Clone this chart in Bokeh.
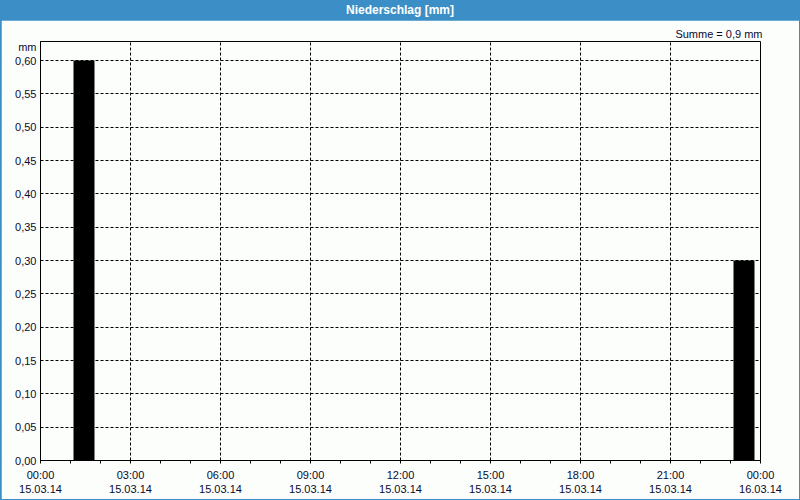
from bokeh.plotting import figure
from bokeh.models import (FixedTicker, CustomJSTickFormatter, Div, ColumnDataSource, Title)
from bokeh.layouts import column
from bokeh.embed import file_html
from bokeh.resources import INLINE

# ---- data ----
title_text = "Niederschlag [mm]"
unit_text = "mm"
# bar positions in hours after 15.03.14 00:00 (bar centres), precipitation in mm
bar_hours = [1.45, 23.45]
precip_mm = [0.60, 0.30]
bar_width_hours = 0.7
# x ticks (hours after start) and their labels
x_tick_hours = [0, 3, 6, 9, 12, 15, 18, 21, 24]
x_tick_times = ["00:00", "03:00", "06:00", "09:00", "12:00", "15:00", "18:00", "21:00", "00:00"]
x_tick_dates = ["15.03.14"] * 8 + ["16.03.14"]
x_minor_hours = [h for h in range(0, 25) if h % 3 != 0]
y_ticks = [0.00, 0.05, 0.10, 0.15, 0.20, 0.25, 0.30, 0.35, 0.40, 0.45, 0.50, 0.55, 0.60]
y_max = 0.6285
x_min, x_max = 0, 24
unit_label_pos = 0.621  # where the unit caption sits on the y axis

FONT = "Liberation Sans"
TXT = "#0a0a30"
BG = "#fcfefc"
BLUE = "#3c8fc6"

src = ColumnDataSource(dict(x=bar_hours, top=precip_mm))

p = figure(width=798, height=479, frame_width=720, frame_height=419,
           min_border_left=39, min_border_right=39, min_border_top=21, min_border_bottom=39,
           x_range=(x_min, x_max), y_range=(0, y_max),
           output_backend="svg", toolbar_location=None,
           background_fill_color=BG, border_fill_color=BG,
           margin=(0, 1, 1, 1))

p.outline_line_color = "black"
p.outline_line_alpha = 1.0
p.outline_line_width = 1

p.vbar(x="x", top="top", bottom=0, width=bar_width_hours, source=src,
       fill_color="black", line_color=None)

# x axis
xa = p.xaxis[0]
xa.ticker = FixedTicker(ticks=x_tick_hours, minor_ticks=x_minor_hours)
xa.major_label_overrides = {h: f"{t}\n{d}" for h, t, d in zip(x_tick_hours, x_tick_times, x_tick_dates)}
xa.axis_line_color = "black"
xa.major_tick_in = 0
xa.major_tick_out = 3
xa.minor_tick_in = 0
xa.minor_tick_out = 3
xa.major_tick_line_color = "black"
xa.minor_tick_line_color = "black"
xa.major_label_standoff = 5
xa.major_label_text_font = FONT
xa.major_label_text_font_size = "11px"
xa.major_label_text_color = TXT

# y axis (the unit caption is shown as an extra label at the top of the axis)
ya = p.yaxis[0]
ya.ticker = FixedTicker(ticks=y_ticks + [unit_label_pos], minor_ticks=[])
ya.formatter = CustomJSTickFormatter(
    args=dict(unit=unit_text, upos=unit_label_pos),
    code="if (Math.abs(tick - upos) < 1e-6) { return unit; } return tick.toFixed(2).replace('.', ',');")
ya.axis_line_color = "black"
ya.major_tick_in = 0
ya.major_tick_out = 0
ya.minor_tick_in = 0
ya.minor_tick_out = 0
ya.major_label_standoff = 4
ya.major_label_text_font = FONT
ya.major_label_text_font_size = "11px"
ya.major_label_text_color = TXT

# grids
p.xgrid.ticker = FixedTicker(ticks=[h for h in x_tick_hours if x_min < h < x_max])
p.ygrid.ticker = FixedTicker(ticks=[t for t in y_ticks if t > 0])
for g in (p.xgrid[0], p.ygrid[0]):
    g.grid_line_color = "black"
    g.grid_line_dash = "3 2"
    g.grid_line_width = 1
    g.grid_line_alpha = 1.0

# annotations
total = sum(precip_mm)
sum_text = "Summe = " + f"{total:.1f}".replace(".", ",") + " mm"
p.add_layout(Title(text=sum_text, align="right", text_font=FONT, text_font_size="11px",
                   text_font_style="normal", text_color=TXT, standoff=4, offset=-2), "above")

header = Div(text=title_text, width=800, height=20, margin=0,
             styles={"background-color": BLUE, "color": "white", "font-family": FONT,
                     "font-weight": "bold", "font-size": "12px", "text-align": "center",
                     "line-height": "20px", "width": "800px", "height": "20px"})

layout = column(header, p, spacing=0, margin=0,
                styles={"background-color": BLUE, "width": "800px", "height": "500px"})

open("out.html", "w").write(file_html(layout, INLINE))
